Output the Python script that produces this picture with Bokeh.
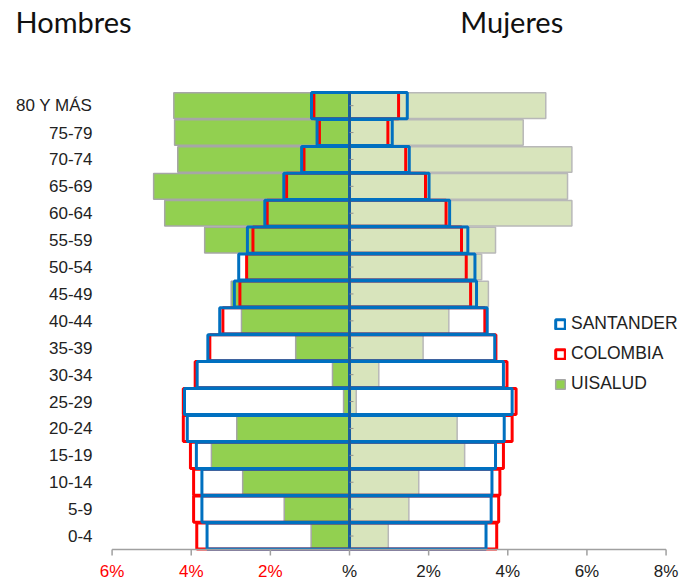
from bokeh.plotting import figure
from bokeh.models import Range1d, Legend, LegendItem, ColumnDataSource
from bokeh.core.properties import value
from bokeh.embed import file_html
from bokeh.resources import INLINE

categories = ["0-4", "5-9", "10-14", "15-19", "20-24", "25-29", "30-34", "35-39",
              "40-44", "45-49", "50-54", "55-59", "60-64", "65-69", "70-74", "75-79",
              "80 Y MÁS"]
uisalud_h = [0.97, 1.65, 2.70, 3.49, 2.85, 0.15, 0.43, 1.36, 2.73, 2.99, 2.60, 3.66,
             4.67, 4.95, 4.34, 4.42, 4.44]
uisalud_m = [0.98, 1.50, 1.75, 2.91, 2.72, 0.17, 0.74, 1.86, 2.51, 3.51, 3.34, 3.69,
             5.62, 5.51, 5.62, 4.39, 4.96]
santander_h = [3.60, 3.73, 3.73, 3.87, 4.10, 4.17, 3.85, 3.58, 3.28, 2.91, 2.80, 2.58,
               2.14, 1.66, 1.21, 0.82, 0.96]
colombia_h = [3.86, 3.94, 3.94, 4.02, 4.20, 4.20, 3.90, 3.53, 3.20, 2.77, 2.60, 2.44,
              2.08, 1.59, 1.15, 0.76, 0.90]
santander_m = [3.45, 3.58, 3.60, 3.69, 3.91, 4.11, 3.89, 3.67, 3.48, 3.21, 3.17, 2.99,
               2.53, 2.01, 1.51, 1.08, 1.46]
colombia_m = [3.72, 3.77, 3.80, 3.89, 4.11, 4.21, 3.98, 3.70, 3.42, 3.06, 2.95, 2.83,
              2.44, 1.92, 1.42, 0.97, 1.24]
x_ticks = [-6, -4, -2, 0, 2, 4, 6, 8]
x_tick_labels = ["6%", "4%", "2%", "%", "2%", "4%", "6%", "8%"]
x_tick_colors = ["#FF0000", "#FF0000", "#FF0000", "#222222", "#222222", "#222222",
                 "#222222", "#222222"]

GREEN = "#92D050"
LIGHT = "#D8E4BC"
BLUE = "#0070C0"
RED = "#FF0000"
FONT = "Liberation Sans"

n = len(categories)
ys = list(range(n))
src = ColumnDataSource(dict(
    y=ys, cat=categories,
    uh=[-v for v in uisalud_h], um=uisalud_m,
    sh=[-v for v in santander_h], sm=santander_m,
    ch=[-v for v in colombia_h], cm=colombia_m,
    zero=[0] * n, tick=[0.1] * n, lab_x=[-6.495] * n,
))

# whole canvas is the frame; ranges chosen so that -6..8 and the 17 rows
# sit where the reference places them
p = figure(width=681, height=582, output_backend="svg", toolbar_location=None,
           x_range=Range1d(-8.820, 8.390), y_range=Range1d(-1.727, 19.909),
           min_border=0, x_axis_location=None, y_axis_location=None)
p.outline_line_color = None
p.xgrid.visible = False
p.ygrid.visible = False

g1 = p.hbar(y="y", left="uh", right="zero", height=0.95, source=src,
            fill_color=GREEN, line_color="#A6A6A6", line_width=1.5)
p.hbar(y="y", left="zero", right="um", height=0.95, source=src,
       fill_color=LIGHT, line_color="#B8B8B8", line_width=1.5)
r1 = p.hbar(y="y", left="ch", right="zero", height=0.97, source=src,
            fill_color=None, line_color=RED, line_width=3)
p.hbar(y="y", left="zero", right="cm", height=0.97, source=src,
       fill_color=None, line_color=RED, line_width=3)
b1 = p.hbar(y="y", left="sh", right="zero", height=0.97, source=src,
            fill_color=None, line_color=BLUE, line_width=3)
p.hbar(y="y", left="zero", right="sm", height=0.97, source=src,
       fill_color=None, line_color=BLUE, line_width=3)

# central axis with small ticks
p.segment(x0=[0], y0=[-0.5], x1=[0], y1=[n - 0.5], line_color="#1F5A96", line_width=2.5)
p.segment(x0="zero", y0="y", x1="tick", y1="y", source=src, line_color="#909090",
          line_width=1)

# bottom axis
p.segment(x0=[x_ticks[0]], y0=[-0.5], x1=[x_ticks[-1]], y1=[-0.5],
          line_color="#A0A0A0", line_width=1.5)
tsrc = ColumnDataSource(dict(x=x_ticks, y0=[-0.5] * len(x_ticks),
                             y1=[-0.723] * len(x_ticks), ly=[-1.318] * len(x_ticks),
                             t=x_tick_labels, c=x_tick_colors))
p.segment(x0="x", y0="y0", x1="x", y1="y1", source=tsrc, line_color="#A0A0A0",
          line_width=1.5)
p.text(x="x", y="ly", text="t", source=tsrc, text_color="c", text_align="center",
       text_baseline="middle", text_font=value(FONT), text_font_size="17px")

# category labels
p.text(x="lab_x", y="y", text="cat", source=src, text_color="#222222",
       text_align="right", text_baseline="middle", text_font=value(FONT),
       text_font_size="17px")

# titles
p.text(x=[-8.44, 2.80], y=[19.13, 19.13], text=["Hombres", "Mujeres"],
       text_color="#111111", text_align="left", text_baseline="alphabetic",
       text_font=value("Lato"), text_font_size="29px")

legend = Legend(items=[LegendItem(label="SANTANDER", renderers=[b1]),
                       LegendItem(label="COLOMBIA", renderers=[r1]),
                       LegendItem(label="UISALUD", renderers=[g1])],
                location=(554, 188))
legend.background_fill_alpha = 0
legend.border_line_color = None
legend.padding = 0
legend.margin = 0
legend.spacing = 9
legend.glyph_width = 12
legend.glyph_height = 12
legend.label_height = 20
legend.label_standoff = 5
legend.label_text_font = FONT
legend.label_text_font_size = "17.5px"
legend.label_text_color = "#222222"
p.add_layout(legend, "center")

open("out.html", "w").write(file_html(p, INLINE))
